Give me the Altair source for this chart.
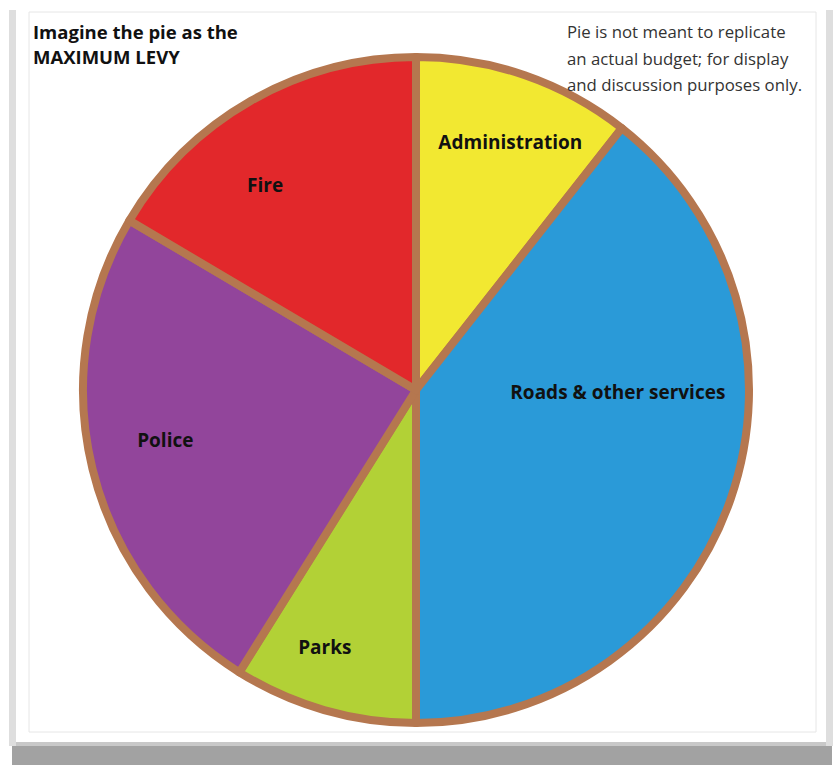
import altair as alt
import pandas as pd

categories = ["Administration", "Roads & other services", "Parks", "Police", "Fire"]
values = [10.6, 39.4, 8.9, 24.6, 16.5]
colors = ["#f2e831", "#2a9ad8", "#b2d136", "#92459b", "#e2282b"]
order = [1, 2, 3, 4, 5]

title_lines = ["Imagine the pie as the", "MAXIMUM LEVY"]
note_lines = ["Pie is not meant to replicate", "an actual budget; for display", "and discussion purposes only."]

df = pd.DataFrame({"category": categories, "value": values, "order": order})

CX, CY = 416, 390
R = 333
FONT = "Open Sans"

# label nudges (style only): dx, dy per slice label
nudge = {
    "Administration": (10, -3),
    "Roads & other services": (-42, -81),
    "Parks": (-20, 10),
    "Police": (0, -10),
    "Fire": (-23, 20),
}

one = alt.Data(values=[{"a": 1}])

shadow = alt.Chart(one).mark_rect(color="#a2a2a2").encode(
    x=alt.value(12), x2=alt.value(832), y=alt.value(746), y2=alt.value(765))
shadow_top = alt.Chart(one).mark_rect(color="#c8c8c8").encode(
    x=alt.value(12), x2=alt.value(832), y=alt.value(742), y2=alt.value(747))
left_edge = alt.Chart(one).mark_rect(color="#dedede").encode(
    x=alt.value(9), x2=alt.value(16), y=alt.value(10), y2=alt.value(746))
right_edge = alt.Chart(one).mark_rect(color="#dedede").encode(
    x=alt.value(826), x2=alt.value(833), y=alt.value(10), y2=alt.value(746))
inner = alt.Chart(one).mark_rect(fill="white", stroke="#e6e6e6", strokeWidth=1).encode(
    x=alt.value(29), x2=alt.value(816), y=alt.value(12), y2=alt.value(732))

color_scale = alt.Scale(domain=categories, range=colors)

arcs = alt.Chart(df).mark_arc(stroke="#b5774f", strokeWidth=8, strokeJoin="round").encode(
    theta=alt.Theta("value:Q", stack=True),
    order=alt.Order("order:Q"),
    color=alt.Color("category:N", scale=color_scale, legend=None),
    x=alt.value(CX), y=alt.value(CY),
    radius=alt.value(R),
)

label_layers = []
for cat in categories:
    dx, dy = nudge[cat]
    label_layers.append(
        alt.Chart(df).mark_text(
            radius=258, font=FONT, fontWeight="bold", fontSize=19, color="#111111",
            dx=dx, dy=dy
        ).encode(
            theta=alt.Theta("value:Q", stack=True),
            order=alt.Order("order:Q"),
            text=alt.Text("label:N"),
            x=alt.value(CX), y=alt.value(CY),
        ).transform_calculate(
            label=f"datum.category === {cat!r} ? datum.category : ''"
        )
    )

title = alt.Chart(one).mark_text(
    align="left", baseline="top", font=FONT, fontWeight="bold", fontSize=18.5,
    lineHeight=25, color="#111111"
).encode(x=alt.value(33), y=alt.value(24), text=alt.value(title_lines))

note = alt.Chart(one).mark_text(
    align="left", baseline="top", font=FONT, fontSize=16.8,
    lineHeight=26.5, color="#333333"
).encode(x=alt.value(567), y=alt.value(25), text=alt.value(note_lines))

chart = alt.layer(
    shadow_top, shadow, left_edge, right_edge, inner, arcs, *label_layers, title, note
).properties(
    width=837, height=765, autosize=alt.AutoSizeParams(type="none"), padding=0,
    background="white"
).configure_view(stroke=None)

chart.save("out.html", embed_options={"renderer": "svg", "actions": False})
